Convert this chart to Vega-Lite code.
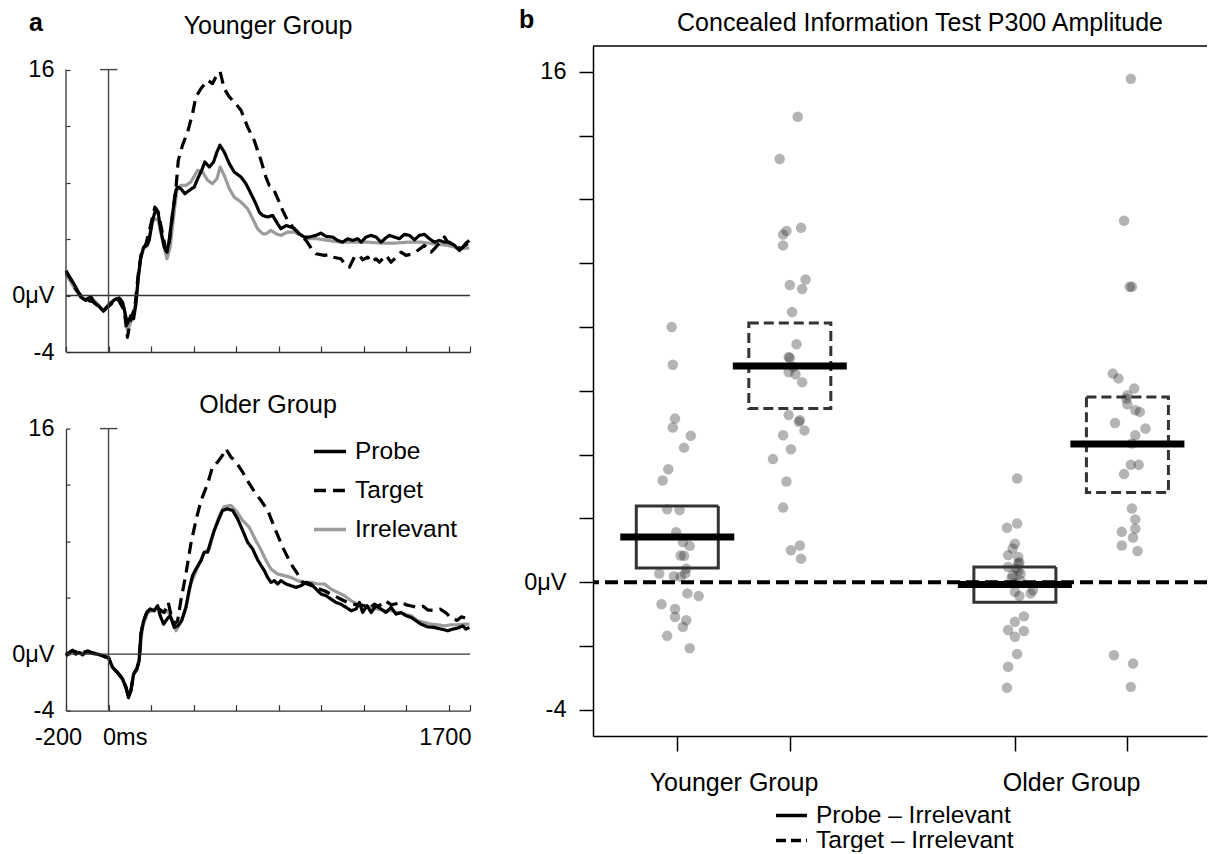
{
"$schema": "https://vega.github.io/schema/vega-lite/v6.json",
"background": "white",
"padding": {"left": 11, "top": 8, "right": 0, "bottom": 0},
"config": {
  "font": "Liberation Sans",
  "view": {"stroke": null},
  "axis": {"grid": false, "labelColor": "black", "labelFont": "Liberation Sans"},
  "title": {"font": "Liberation Sans", "fontWeight": "normal", "color": "black"},
  "legend": {"labelFont": "Liberation Sans", "labelColor": "black", "labelLimit": 400}
},
"datasets": {
  "waves": [
    {"g":"Y","c":"Probe","t":-200,"v":1.65},{"g":"Y","c":"Probe","t":-177,"v":1.18},{"g":"Y","c":"Probe","t":-154,"v":0.59},{"g":"Y","c":"Probe","t":-130,"v":-0.12},{"g":"Y","c":"Probe","t":-107,"v":-0.35},{"g":"Y","c":"Probe","t":-83,"v":-0.07},{"g":"Y","c":"Probe","t":-67,"v":-0.54},{"g":"Y","c":"Probe","t":-44,"v":-0.78},{"g":"Y","c":"Probe","t":-24,"v":-1.11},{"g":"Y","c":"Probe","t":0,"v":-0.71},{"g":"Y","c":"Probe","t":27,"v":-0.31},{"g":"Y","c":"Probe","t":50,"v":-0.17},{"g":"Y","c":"Probe","t":66,"v":-0.47},{"g":"Y","c":"Probe","t":82,"v":-1.54},{"g":"Y","c":"Probe","t":89,"v":-2.0},{"g":"Y","c":"Probe","t":105,"v":-1.42},{"g":"Y","c":"Probe","t":118,"v":-1.65},{"g":"Y","c":"Probe","t":129,"v":-0.59},{"g":"Y","c":"Probe","t":140,"v":1.3},{"g":"Y","c":"Probe","t":152,"v":2.72},{"g":"Y","c":"Probe","t":165,"v":3.43},{"g":"Y","c":"Probe","t":180,"v":3.55},{"g":"Y","c":"Probe","t":191,"v":3.9},{"g":"Y","c":"Probe","t":207,"v":5.32},{"g":"Y","c":"Probe","t":223,"v":6.15},{"g":"Y","c":"Probe","t":234,"v":5.79},{"g":"Y","c":"Probe","t":246,"v":4.61},{"g":"Y","c":"Probe","t":262,"v":3.43},{"g":"Y","c":"Probe","t":275,"v":3.07},{"g":"Y","c":"Probe","t":285,"v":3.9},{"g":"Y","c":"Probe","t":301,"v":5.79},{"g":"Y","c":"Probe","t":317,"v":7.45},{"g":"Y","c":"Probe","t":325,"v":7.68},{"g":"Y","c":"Probe","t":340,"v":7.57},{"g":"Y","c":"Probe","t":359,"v":7.21},{"g":"Y","c":"Probe","t":380,"v":7.45},{"g":"Y","c":"Probe","t":403,"v":7.68},{"g":"Y","c":"Probe","t":419,"v":8.27},{"g":"Y","c":"Probe","t":438,"v":8.87},{"g":"Y","c":"Probe","t":453,"v":9.46},{"g":"Y","c":"Probe","t":474,"v":9.1},{"g":"Y","c":"Probe","t":494,"v":9.46},{"g":"Y","c":"Probe","t":510,"v":10.17},{"g":"Y","c":"Probe","t":524,"v":10.64},{"g":"Y","c":"Probe","t":544,"v":10.17},{"g":"Y","c":"Probe","t":568,"v":9.34},{"g":"Y","c":"Probe","t":591,"v":8.75},{"g":"Y","c":"Probe","t":623,"v":8.39},{"g":"Y","c":"Probe","t":646,"v":7.92},{"g":"Y","c":"Probe","t":670,"v":7.21},{"g":"Y","c":"Probe","t":693,"v":6.5},{"g":"Y","c":"Probe","t":709,"v":5.91},{"g":"Y","c":"Probe","t":725,"v":5.67},{"g":"Y","c":"Probe","t":748,"v":5.56},{"g":"Y","c":"Probe","t":772,"v":5.67},{"g":"Y","c":"Probe","t":795,"v":5.08},{"g":"Y","c":"Probe","t":811,"v":4.73},{"g":"Y","c":"Probe","t":835,"v":4.96},{"g":"Y","c":"Probe","t":858,"v":4.85},{"g":"Y","c":"Probe","t":874,"v":4.73},{"g":"Y","c":"Probe","t":897,"v":4.37},{"g":"Y","c":"Probe","t":921,"v":4.14},{"g":"Y","c":"Probe","t":944,"v":4.14},{"g":"Y","c":"Probe","t":976,"v":4.26},{"g":"Y","c":"Probe","t":999,"v":4.42},{"g":"Y","c":"Probe","t":1023,"v":4.18},{"g":"Y","c":"Probe","t":1054,"v":4.14},{"g":"Y","c":"Probe","t":1078,"v":3.9},{"g":"Y","c":"Probe","t":1101,"v":3.78},{"g":"Y","c":"Probe","t":1125,"v":4.02},{"g":"Y","c":"Probe","t":1148,"v":3.9},{"g":"Y","c":"Probe","t":1172,"v":4.02},{"g":"Y","c":"Probe","t":1188,"v":3.78},{"g":"Y","c":"Probe","t":1211,"v":4.14},{"g":"Y","c":"Probe","t":1235,"v":4.26},{"g":"Y","c":"Probe","t":1258,"v":4.14},{"g":"Y","c":"Probe","t":1282,"v":3.78},{"g":"Y","c":"Probe","t":1305,"v":4.09},{"g":"Y","c":"Probe","t":1321,"v":4.26},{"g":"Y","c":"Probe","t":1344,"v":4.14},{"g":"Y","c":"Probe","t":1368,"v":4.02},{"g":"Y","c":"Probe","t":1391,"v":4.33},{"g":"Y","c":"Probe","t":1415,"v":4.26},{"g":"Y","c":"Probe","t":1439,"v":3.95},{"g":"Y","c":"Probe","t":1462,"v":4.26},{"g":"Y","c":"Probe","t":1486,"v":4.33},{"g":"Y","c":"Probe","t":1509,"v":4.02},{"g":"Y","c":"Probe","t":1533,"v":3.78},{"g":"Y","c":"Probe","t":1556,"v":3.9},{"g":"Y","c":"Probe","t":1580,"v":3.78},{"g":"Y","c":"Probe","t":1603,"v":3.78},{"g":"Y","c":"Probe","t":1627,"v":3.55},{"g":"Y","c":"Probe","t":1650,"v":3.19},{"g":"Y","c":"Probe","t":1666,"v":3.43},{"g":"Y","c":"Probe","t":1681,"v":3.71},{"g":"Y","c":"Probe","t":1697,"v":3.9},
    {"g":"Y","c":"Irrelevant","t":-200,"v":1.54},{"g":"Y","c":"Irrelevant","t":-154,"v":0.35},{"g":"Y","c":"Irrelevant","t":-130,"v":-0.12},{"g":"Y","c":"Irrelevant","t":-107,"v":-0.24},{"g":"Y","c":"Irrelevant","t":-83,"v":-0.12},{"g":"Y","c":"Irrelevant","t":-44,"v":-0.71},{"g":"Y","c":"Irrelevant","t":-24,"v":-1.06},{"g":"Y","c":"Irrelevant","t":0,"v":-0.59},{"g":"Y","c":"Irrelevant","t":35,"v":-0.24},{"g":"Y","c":"Irrelevant","t":58,"v":-0.31},{"g":"Y","c":"Irrelevant","t":74,"v":-0.95},{"g":"Y","c":"Irrelevant","t":89,"v":-2.48},{"g":"Y","c":"Irrelevant","t":102,"v":-2.0},{"g":"Y","c":"Irrelevant","t":118,"v":-1.3},{"g":"Y","c":"Irrelevant","t":133,"v":0.12},{"g":"Y","c":"Irrelevant","t":149,"v":2.48},{"g":"Y","c":"Irrelevant","t":165,"v":3.31},{"g":"Y","c":"Irrelevant","t":184,"v":3.55},{"g":"Y","c":"Irrelevant","t":203,"v":5.08},{"g":"Y","c":"Irrelevant","t":215,"v":5.44},{"g":"Y","c":"Irrelevant","t":234,"v":5.32},{"g":"Y","c":"Irrelevant","t":254,"v":3.9},{"g":"Y","c":"Irrelevant","t":275,"v":2.6},{"g":"Y","c":"Irrelevant","t":290,"v":3.43},{"g":"Y","c":"Irrelevant","t":306,"v":5.56},{"g":"Y","c":"Irrelevant","t":321,"v":7.45},{"g":"Y","c":"Irrelevant","t":340,"v":7.8},{"g":"Y","c":"Irrelevant","t":364,"v":7.8},{"g":"Y","c":"Irrelevant","t":387,"v":8.04},{"g":"Y","c":"Irrelevant","t":419,"v":8.87},{"g":"Y","c":"Irrelevant","t":442,"v":8.75},{"g":"Y","c":"Irrelevant","t":466,"v":8.16},{"g":"Y","c":"Irrelevant","t":489,"v":7.92},{"g":"Y","c":"Irrelevant","t":510,"v":8.27},{"g":"Y","c":"Irrelevant","t":525,"v":9.1},{"g":"Y","c":"Irrelevant","t":544,"v":8.51},{"g":"Y","c":"Irrelevant","t":568,"v":7.57},{"g":"Y","c":"Irrelevant","t":591,"v":6.97},{"g":"Y","c":"Irrelevant","t":623,"v":6.62},{"g":"Y","c":"Irrelevant","t":654,"v":6.15},{"g":"Y","c":"Irrelevant","t":678,"v":5.44},{"g":"Y","c":"Irrelevant","t":701,"v":4.73},{"g":"Y","c":"Irrelevant","t":725,"v":4.37},{"g":"Y","c":"Irrelevant","t":741,"v":4.37},{"g":"Y","c":"Irrelevant","t":764,"v":4.61},{"g":"Y","c":"Irrelevant","t":788,"v":4.37},{"g":"Y","c":"Irrelevant","t":811,"v":4.26},{"g":"Y","c":"Irrelevant","t":842,"v":4.49},{"g":"Y","c":"Irrelevant","t":874,"v":4.49},{"g":"Y","c":"Irrelevant","t":905,"v":4.26},{"g":"Y","c":"Irrelevant","t":937,"v":4.02},{"g":"Y","c":"Irrelevant","t":984,"v":4.02},{"g":"Y","c":"Irrelevant","t":1031,"v":3.9},{"g":"Y","c":"Irrelevant","t":1093,"v":3.78},{"g":"Y","c":"Irrelevant","t":1156,"v":3.78},{"g":"Y","c":"Irrelevant","t":1219,"v":3.78},{"g":"Y","c":"Irrelevant","t":1282,"v":3.71},{"g":"Y","c":"Irrelevant","t":1344,"v":3.71},{"g":"Y","c":"Irrelevant","t":1407,"v":3.78},{"g":"Y","c":"Irrelevant","t":1470,"v":3.78},{"g":"Y","c":"Irrelevant","t":1533,"v":3.66},{"g":"Y","c":"Irrelevant","t":1595,"v":3.55},{"g":"Y","c":"Irrelevant","t":1658,"v":3.31},{"g":"Y","c":"Irrelevant","t":1697,"v":3.38},
    {"g":"Y","c":"Target","t":-200,"v":1.77},{"g":"Y","c":"Target","t":-154,"v":0.47},{"g":"Y","c":"Target","t":-130,"v":0.0},{"g":"Y","c":"Target","t":-107,"v":-0.31},{"g":"Y","c":"Target","t":-67,"v":-0.47},{"g":"Y","c":"Target","t":-24,"v":-1.06},{"g":"Y","c":"Target","t":0,"v":-0.78},{"g":"Y","c":"Target","t":42,"v":-0.17},{"g":"Y","c":"Target","t":74,"v":-1.06},{"g":"Y","c":"Target","t":89,"v":-2.96},{"g":"Y","c":"Target","t":105,"v":-1.65},{"g":"Y","c":"Target","t":124,"v":-0.83},{"g":"Y","c":"Target","t":140,"v":1.54},{"g":"Y","c":"Target","t":155,"v":3.07},{"g":"Y","c":"Target","t":176,"v":3.66},{"g":"Y","c":"Target","t":196,"v":4.85},{"g":"Y","c":"Target","t":218,"v":6.26},{"g":"Y","c":"Target","t":234,"v":5.91},{"g":"Y","c":"Target","t":254,"v":4.37},{"g":"Y","c":"Target","t":270,"v":3.19},{"g":"Y","c":"Target","t":286,"v":3.78},{"g":"Y","c":"Target","t":309,"v":6.74},{"g":"Y","c":"Target","t":317,"v":7.57},{"g":"Y","c":"Target","t":328,"v":9.57},{"g":"Y","c":"Target","t":348,"v":10.64},{"g":"Y","c":"Target","t":372,"v":11.58},{"g":"Y","c":"Target","t":395,"v":12.88},{"g":"Y","c":"Target","t":411,"v":14.07},{"g":"Y","c":"Target","t":435,"v":14.66},{"g":"Y","c":"Target","t":466,"v":15.25},{"g":"Y","c":"Target","t":489,"v":15.01},{"g":"Y","c":"Target","t":513,"v":15.72},{"g":"Y","c":"Target","t":525,"v":15.84},{"g":"Y","c":"Target","t":544,"v":14.66},{"g":"Y","c":"Target","t":568,"v":14.07},{"g":"Y","c":"Target","t":591,"v":13.71},{"g":"Y","c":"Target","t":623,"v":13.12},{"g":"Y","c":"Target","t":654,"v":11.94},{"g":"Y","c":"Target","t":685,"v":10.99},{"g":"Y","c":"Target","t":717,"v":9.57},{"g":"Y","c":"Target","t":740,"v":8.39},{"g":"Y","c":"Target","t":756,"v":7.8},{"g":"Y","c":"Target","t":772,"v":7.68},{"g":"Y","c":"Target","t":803,"v":6.62},{"g":"Y","c":"Target","t":819,"v":6.03},{"g":"Y","c":"Target","t":842,"v":5.32},{"g":"Y","c":"Target","t":866,"v":4.85},{"g":"Y","c":"Target","t":897,"v":4.37},{"g":"Y","c":"Target","t":929,"v":3.9},{"g":"Y","c":"Target","t":960,"v":3.19},{"g":"Y","c":"Target","t":976,"v":2.96},{"g":"Y","c":"Target","t":1015,"v":2.84},{"g":"Y","c":"Target","t":1039,"v":2.91},{"g":"Y","c":"Target","t":1054,"v":2.72},{"g":"Y","c":"Target","t":1093,"v":2.6},{"g":"Y","c":"Target","t":1117,"v":2.13},{"g":"Y","c":"Target","t":1133,"v":2.01},{"g":"Y","c":"Target","t":1156,"v":2.72},{"g":"Y","c":"Target","t":1180,"v":2.84},{"g":"Y","c":"Target","t":1195,"v":2.53},{"g":"Y","c":"Target","t":1219,"v":2.72},{"g":"Y","c":"Target","t":1235,"v":2.36},{"g":"Y","c":"Target","t":1258,"v":2.6},{"g":"Y","c":"Target","t":1274,"v":2.36},{"g":"Y","c":"Target","t":1305,"v":2.84},{"g":"Y","c":"Target","t":1329,"v":2.36},{"g":"Y","c":"Target","t":1376,"v":3.07},{"g":"Y","c":"Target","t":1399,"v":2.84},{"g":"Y","c":"Target","t":1431,"v":2.96},{"g":"Y","c":"Target","t":1454,"v":3.19},{"g":"Y","c":"Target","t":1486,"v":3.55},{"g":"Y","c":"Target","t":1517,"v":3.07},{"g":"Y","c":"Target","t":1540,"v":3.43},{"g":"Y","c":"Target","t":1580,"v":4.14},{"g":"Y","c":"Target","t":1595,"v":3.78},{"g":"Y","c":"Target","t":1627,"v":3.55},{"g":"Y","c":"Target","t":1658,"v":3.31},{"g":"Y","c":"Target","t":1697,"v":3.78},
    {"g":"O","c":"Probe","t":-200,"v":-0.12},{"g":"O","c":"Probe","t":-185,"v":0.12},{"g":"O","c":"Probe","t":-169,"v":0.28},{"g":"O","c":"Probe","t":-154,"v":0.0},{"g":"O","c":"Probe","t":-138,"v":0.12},{"g":"O","c":"Probe","t":-122,"v":-0.05},{"g":"O","c":"Probe","t":-98,"v":0.24},{"g":"O","c":"Probe","t":-75,"v":0.05},{"g":"O","c":"Probe","t":-52,"v":0.0},{"g":"O","c":"Probe","t":-28,"v":-0.12},{"g":"O","c":"Probe","t":0,"v":-0.28},{"g":"O","c":"Probe","t":19,"v":-0.95},{"g":"O","c":"Probe","t":42,"v":-1.3},{"g":"O","c":"Probe","t":66,"v":-1.78},{"g":"O","c":"Probe","t":82,"v":-2.37},{"g":"O","c":"Probe","t":94,"v":-3.08},{"g":"O","c":"Probe","t":105,"v":-2.61},{"g":"O","c":"Probe","t":118,"v":-1.42},{"g":"O","c":"Probe","t":133,"v":-1.07},{"g":"O","c":"Probe","t":144,"v":-0.47},{"g":"O","c":"Probe","t":152,"v":1.42},{"g":"O","c":"Probe","t":165,"v":2.37},{"g":"O","c":"Probe","t":180,"v":2.96},{"g":"O","c":"Probe","t":196,"v":3.2},{"g":"O","c":"Probe","t":215,"v":3.08},{"g":"O","c":"Probe","t":231,"v":3.44},{"g":"O","c":"Probe","t":243,"v":2.73},{"g":"O","c":"Probe","t":259,"v":2.13},{"g":"O","c":"Probe","t":275,"v":2.49},{"g":"O","c":"Probe","t":290,"v":2.73},{"g":"O","c":"Probe","t":309,"v":1.9},{"g":"O","c":"Probe","t":325,"v":2.01},{"g":"O","c":"Probe","t":344,"v":2.37},{"g":"O","c":"Probe","t":364,"v":3.32},{"g":"O","c":"Probe","t":380,"v":4.62},{"g":"O","c":"Probe","t":395,"v":5.57},{"g":"O","c":"Probe","t":411,"v":6.04},{"g":"O","c":"Probe","t":435,"v":6.64},{"g":"O","c":"Probe","t":450,"v":7.23},{"g":"O","c":"Probe","t":466,"v":7.23},{"g":"O","c":"Probe","t":482,"v":8.06},{"g":"O","c":"Probe","t":497,"v":8.77},{"g":"O","c":"Probe","t":516,"v":9.48},{"g":"O","c":"Probe","t":536,"v":10.19},{"g":"O","c":"Probe","t":560,"v":10.31},{"g":"O","c":"Probe","t":584,"v":10.19},{"g":"O","c":"Probe","t":607,"v":9.6},{"g":"O","c":"Probe","t":631,"v":8.77},{"g":"O","c":"Probe","t":654,"v":7.94},{"g":"O","c":"Probe","t":678,"v":7.46},{"g":"O","c":"Probe","t":701,"v":6.7},{"g":"O","c":"Probe","t":717,"v":6.3},{"g":"O","c":"Probe","t":733,"v":5.92},{"g":"O","c":"Probe","t":748,"v":5.45},{"g":"O","c":"Probe","t":764,"v":5.09},{"g":"O","c":"Probe","t":780,"v":5.21},{"g":"O","c":"Probe","t":795,"v":4.98},{"g":"O","c":"Probe","t":811,"v":5.21},{"g":"O","c":"Probe","t":835,"v":4.98},{"g":"O","c":"Probe","t":858,"v":4.86},{"g":"O","c":"Probe","t":882,"v":4.74},{"g":"O","c":"Probe","t":905,"v":4.86},{"g":"O","c":"Probe","t":929,"v":5.09},{"g":"O","c":"Probe","t":952,"v":4.98},{"g":"O","c":"Probe","t":976,"v":4.62},{"g":"O","c":"Probe","t":999,"v":4.27},{"g":"O","c":"Probe","t":1023,"v":4.15},{"g":"O","c":"Probe","t":1046,"v":3.91},{"g":"O","c":"Probe","t":1070,"v":3.67},{"g":"O","c":"Probe","t":1093,"v":3.55},{"g":"O","c":"Probe","t":1117,"v":3.32},{"g":"O","c":"Probe","t":1141,"v":3.08},{"g":"O","c":"Probe","t":1164,"v":3.2},{"g":"O","c":"Probe","t":1180,"v":3.67},{"g":"O","c":"Probe","t":1195,"v":2.96},{"g":"O","c":"Probe","t":1216,"v":3.44},{"g":"O","c":"Probe","t":1235,"v":2.96},{"g":"O","c":"Probe","t":1258,"v":3.44},{"g":"O","c":"Probe","t":1282,"v":3.2},{"g":"O","c":"Probe","t":1305,"v":2.96},{"g":"O","c":"Probe","t":1329,"v":3.32},{"g":"O","c":"Probe","t":1352,"v":2.84},{"g":"O","c":"Probe","t":1376,"v":2.96},{"g":"O","c":"Probe","t":1399,"v":2.73},{"g":"O","c":"Probe","t":1423,"v":2.61},{"g":"O","c":"Probe","t":1446,"v":2.37},{"g":"O","c":"Probe","t":1470,"v":2.13},{"g":"O","c":"Probe","t":1501,"v":1.94},{"g":"O","c":"Probe","t":1533,"v":1.9},{"g":"O","c":"Probe","t":1564,"v":1.78},{"g":"O","c":"Probe","t":1595,"v":1.66},{"g":"O","c":"Probe","t":1619,"v":1.78},{"g":"O","c":"Probe","t":1642,"v":1.85},{"g":"O","c":"Probe","t":1666,"v":2.01},{"g":"O","c":"Probe","t":1681,"v":1.78},{"g":"O","c":"Probe","t":1697,"v":1.9},
    {"g":"O","c":"Irrelevant","t":-200,"v":-0.05},{"g":"O","c":"Irrelevant","t":-169,"v":0.2},{"g":"O","c":"Irrelevant","t":-138,"v":0.1},{"g":"O","c":"Irrelevant","t":-98,"v":0.15},{"g":"O","c":"Irrelevant","t":-52,"v":0.02},{"g":"O","c":"Irrelevant","t":0,"v":-0.2},{"g":"O","c":"Irrelevant","t":19,"v":-0.9},{"g":"O","c":"Irrelevant","t":42,"v":-1.25},{"g":"O","c":"Irrelevant","t":66,"v":-1.7},{"g":"O","c":"Irrelevant","t":82,"v":-2.3},{"g":"O","c":"Irrelevant","t":94,"v":-2.95},{"g":"O","c":"Irrelevant","t":105,"v":-2.55},{"g":"O","c":"Irrelevant","t":118,"v":-1.4},{"g":"O","c":"Irrelevant","t":133,"v":-1.0},{"g":"O","c":"Irrelevant","t":144,"v":-0.36},{"g":"O","c":"Irrelevant","t":160,"v":1.9},{"g":"O","c":"Irrelevant","t":184,"v":2.96},{"g":"O","c":"Irrelevant","t":207,"v":3.08},{"g":"O","c":"Irrelevant","t":231,"v":3.32},{"g":"O","c":"Irrelevant","t":254,"v":2.96},{"g":"O","c":"Irrelevant","t":278,"v":3.08},{"g":"O","c":"Irrelevant","t":301,"v":2.37},{"g":"O","c":"Irrelevant","t":317,"v":1.66},{"g":"O","c":"Irrelevant","t":340,"v":2.25},{"g":"O","c":"Irrelevant","t":364,"v":3.32},{"g":"O","c":"Irrelevant","t":387,"v":4.98},{"g":"O","c":"Irrelevant","t":419,"v":6.16},{"g":"O","c":"Irrelevant","t":450,"v":7.23},{"g":"O","c":"Irrelevant","t":474,"v":7.46},{"g":"O","c":"Irrelevant","t":497,"v":8.77},{"g":"O","c":"Irrelevant","t":521,"v":9.83},{"g":"O","c":"Irrelevant","t":544,"v":10.47},{"g":"O","c":"Irrelevant","t":576,"v":10.55},{"g":"O","c":"Irrelevant","t":599,"v":10.19},{"g":"O","c":"Irrelevant","t":631,"v":9.48},{"g":"O","c":"Irrelevant","t":662,"v":9.0},{"g":"O","c":"Irrelevant","t":693,"v":8.06},{"g":"O","c":"Irrelevant","t":717,"v":7.4},{"g":"O","c":"Irrelevant","t":741,"v":6.64},{"g":"O","c":"Irrelevant","t":764,"v":6.04},{"g":"O","c":"Irrelevant","t":795,"v":5.69},{"g":"O","c":"Irrelevant","t":827,"v":5.57},{"g":"O","c":"Irrelevant","t":858,"v":5.45},{"g":"O","c":"Irrelevant","t":890,"v":5.21},{"g":"O","c":"Irrelevant","t":921,"v":5.09},{"g":"O","c":"Irrelevant","t":952,"v":5.09},{"g":"O","c":"Irrelevant","t":984,"v":4.98},{"g":"O","c":"Irrelevant","t":1015,"v":4.98},{"g":"O","c":"Irrelevant","t":1046,"v":4.62},{"g":"O","c":"Irrelevant","t":1078,"v":4.38},{"g":"O","c":"Irrelevant","t":1109,"v":4.15},{"g":"O","c":"Irrelevant","t":1141,"v":3.79},{"g":"O","c":"Irrelevant","t":1172,"v":3.55},{"g":"O","c":"Irrelevant","t":1203,"v":3.44},{"g":"O","c":"Irrelevant","t":1235,"v":3.32},{"g":"O","c":"Irrelevant","t":1266,"v":3.2},{"g":"O","c":"Irrelevant","t":1297,"v":3.08},{"g":"O","c":"Irrelevant","t":1329,"v":3.08},{"g":"O","c":"Irrelevant","t":1360,"v":2.96},{"g":"O","c":"Irrelevant","t":1391,"v":2.84},{"g":"O","c":"Irrelevant","t":1423,"v":2.73},{"g":"O","c":"Irrelevant","t":1454,"v":2.37},{"g":"O","c":"Irrelevant","t":1486,"v":2.25},{"g":"O","c":"Irrelevant","t":1517,"v":2.13},{"g":"O","c":"Irrelevant","t":1548,"v":2.09},{"g":"O","c":"Irrelevant","t":1580,"v":2.01},{"g":"O","c":"Irrelevant","t":1611,"v":2.09},{"g":"O","c":"Irrelevant","t":1642,"v":2.09},{"g":"O","c":"Irrelevant","t":1674,"v":2.13},{"g":"O","c":"Irrelevant","t":1697,"v":2.13},
    {"g":"O","c":"Target","t":-200,"v":0.0},{"g":"O","c":"Target","t":-169,"v":0.25},{"g":"O","c":"Target","t":-138,"v":0.1},{"g":"O","c":"Target","t":-98,"v":0.2},{"g":"O","c":"Target","t":-52,"v":0.0},{"g":"O","c":"Target","t":0,"v":-0.25},{"g":"O","c":"Target","t":19,"v":-0.95},{"g":"O","c":"Target","t":42,"v":-1.3},{"g":"O","c":"Target","t":66,"v":-1.75},{"g":"O","c":"Target","t":82,"v":-2.35},{"g":"O","c":"Target","t":94,"v":-3.05},{"g":"O","c":"Target","t":105,"v":-2.6},{"g":"O","c":"Target","t":118,"v":-1.42},{"g":"O","c":"Target","t":133,"v":-1.05},{"g":"O","c":"Target","t":144,"v":-0.45},{"g":"O","c":"Target","t":152,"v":1.42},{"g":"O","c":"Target","t":165,"v":2.37},{"g":"O","c":"Target","t":180,"v":2.96},{"g":"O","c":"Target","t":196,"v":3.2},{"g":"O","c":"Target","t":215,"v":3.32},{"g":"O","c":"Target","t":238,"v":3.2},{"g":"O","c":"Target","t":262,"v":2.96},{"g":"O","c":"Target","t":281,"v":3.67},{"g":"O","c":"Target","t":293,"v":2.84},{"g":"O","c":"Target","t":309,"v":2.13},{"g":"O","c":"Target","t":325,"v":2.37},{"g":"O","c":"Target","t":340,"v":3.79},{"g":"O","c":"Target","t":364,"v":5.69},{"g":"O","c":"Target","t":387,"v":7.82},{"g":"O","c":"Target","t":411,"v":9.48},{"g":"O","c":"Target","t":435,"v":10.9},{"g":"O","c":"Target","t":466,"v":12.09},{"g":"O","c":"Target","t":489,"v":13.27},{"g":"O","c":"Target","t":513,"v":13.63},{"g":"O","c":"Target","t":536,"v":14.1},{"g":"O","c":"Target","t":552,"v":14.57},{"g":"O","c":"Target","t":576,"v":13.98},{"g":"O","c":"Target","t":599,"v":13.63},{"g":"O","c":"Target","t":631,"v":12.91},{"g":"O","c":"Target","t":662,"v":12.09},{"g":"O","c":"Target","t":693,"v":11.37},{"g":"O","c":"Target","t":717,"v":10.9},{"g":"O","c":"Target","t":749,"v":10.19},{"g":"O","c":"Target","t":780,"v":9.0},{"g":"O","c":"Target","t":819,"v":7.59},{"g":"O","c":"Target","t":858,"v":6.41},{"g":"O","c":"Target","t":889,"v":5.69},{"g":"O","c":"Target","t":913,"v":5.1},{"g":"O","c":"Target","t":940,"v":4.95},{"g":"O","c":"Target","t":976,"v":4.7},{"g":"O","c":"Target","t":1015,"v":4.5},{"g":"O","c":"Target","t":1054,"v":4.2},{"g":"O","c":"Target","t":1093,"v":3.9},{"g":"O","c":"Target","t":1133,"v":3.6},{"g":"O","c":"Target","t":1172,"v":3.5},{"g":"O","c":"Target","t":1200,"v":3.45},{"g":"O","c":"Target","t":1230,"v":3.3},{"g":"O","c":"Target","t":1250,"v":3.55},{"g":"O","c":"Target","t":1270,"v":3.4},{"g":"O","c":"Target","t":1300,"v":3.8},{"g":"O","c":"Target","t":1330,"v":3.5},{"g":"O","c":"Target","t":1360,"v":3.6},{"g":"O","c":"Target","t":1380,"v":3.7},{"g":"O","c":"Target","t":1400,"v":3.5},{"g":"O","c":"Target","t":1430,"v":3.4},{"g":"O","c":"Target","t":1450,"v":3.3},{"g":"O","c":"Target","t":1480,"v":3.4},{"g":"O","c":"Target","t":1500,"v":3.15},{"g":"O","c":"Target","t":1530,"v":3.1},{"g":"O","c":"Target","t":1560,"v":3.2},{"g":"O","c":"Target","t":1590,"v":2.9},{"g":"O","c":"Target","t":1610,"v":2.55},{"g":"O","c":"Target","t":1640,"v":2.4},{"g":"O","c":"Target","t":1660,"v":2.65},{"g":"O","c":"Target","t":1680,"v":2.55},{"g":"O","c":"Target","t":1700,"v":2.45}
  ],
  "pts": [
    {"p":0.95,"v":8.0},{"p":0.96,"v":6.82},{"p":0.98,"v":5.13},{"p":0.96,"v":4.85},{"p":1.12,"v":4.59},{"p":1.06,"v":4.22},{"p":0.92,"v":3.54},{"p":0.87,"v":3.19},{"p":0.91,"v":2.29},{"p":1.02,"v":2.26},{"p":0.99,"v":1.57},{"p":1.05,"v":1.26},{"p":1.11,"v":1.14},{"p":1.03,"v":0.84},{"p":1.06,"v":0.83},{"p":1.08,"v":0.42},{"p":1.07,"v":0.27},{"p":0.84,"v":0.27},{"p":0.97,"v":0.19},{"p":1.03,"v":0.17},{"p":1.09,"v":-0.35},{"p":1.19,"v":-0.43},{"p":0.86,"v":-0.69},{"p":0.98,"v":-0.84},{"p":0.98,"v":-1.09},{"p":1.08,"v":-1.19},{"p":1.05,"v":-1.4},{"p":0.91,"v":-1.68},{"p":1.11,"v":-2.07},
    {"p":2.07,"v":14.59},{"p":1.91,"v":13.27},{"p":2.1,"v":11.11},{"p":1.97,"v":11.01},{"p":1.94,"v":10.9},{"p":1.94,"v":10.56},{"p":2.14,"v":9.49},{"p":2.0,"v":9.32},{"p":2.11,"v":9.19},{"p":2.02,"v":8.47},{"p":2.06,"v":7.46},{"p":1.99,"v":7.06},{"p":2.0,"v":7.03},{"p":1.99,"v":6.59},{"p":2.05,"v":6.52},{"p":2.03,"v":6.75},{"p":2.11,"v":6.27},{"p":1.99,"v":5.24},{"p":2.09,"v":5.08},{"p":2.08,"v":5.03},{"p":2.13,"v":4.76},{"p":1.94,"v":4.61},{"p":2.01,"v":4.17},{"p":1.85,"v":3.86},{"p":1.97,"v":3.16},{"p":1.94,"v":2.34},{"p":2.09,"v":1.15},{"p":2.01,"v":1.0},{"p":2.1,"v":0.74},
    {"p":4.02,"v":3.25},{"p":4.02,"v":1.84},{"p":3.93,"v":1.71},{"p":4.0,"v":1.21},{"p":3.98,"v":1.06},{"p":3.94,"v":0.85},{"p":4.03,"v":0.79},{"p":4.03,"v":0.59},{"p":3.94,"v":0.48},{"p":4.01,"v":0.43},{"p":4.05,"v":0.27},{"p":3.98,"v":0.22},{"p":4.01,"v":-0.02},{"p":4.16,"v":-0.25},{"p":4.0,"v":-0.3},{"p":4.14,"v":-0.35},{"p":4.04,"v":-0.43},{"p":4.08,"v":-1.07},{"p":4.0,"v":-1.24},{"p":3.94,"v":-1.5},{"p":4.08,"v":-1.53},{"p":4.0,"v":-1.71},{"p":4.02,"v":-2.25},{"p":3.94,"v":-2.65},{"p":3.93,"v":-3.31},{"p":4.03,"v":0.35},{"p":3.97,"v":0.12},{"p":4.05,"v":0.05},{"p":4.04,"v":0.62},
    {"p":5.03,"v":15.78},{"p":4.97,"v":11.33},{"p":5.02,"v":9.26},{"p":5.04,"v":9.26},{"p":4.87,"v":6.54},{"p":4.92,"v":6.39},{"p":5.06,"v":6.07},{"p":5.0,"v":5.86},{"p":4.99,"v":5.76},{"p":5.0,"v":5.58},{"p":5.07,"v":5.39},{"p":5.11,"v":5.34},{"p":4.89,"v":4.99},{"p":5.16,"v":4.82},{"p":5.07,"v":4.61},{"p":5.04,"v":4.35},{"p":5.03,"v":3.68},{"p":5.1,"v":3.68},{"p":4.97,"v":3.39},{"p":5.04,"v":2.31},{"p":5.07,"v":1.97},{"p":5.07,"v":1.68},{"p":4.95,"v":1.58},{"p":5.05,"v":1.4},{"p":4.95,"v":1.15},{"p":5.09,"v":0.98},{"p":4.88,"v":-2.29},{"p":5.05,"v":-2.55},{"p":5.03,"v":-3.28}
  ],
  "summ": [
    {"p":1,"m":1.42,"lo":0.45,"hi":2.39,"d":"Probe – Irrelevant"},
    {"p":2,"m":6.78,"lo":5.45,"hi":8.13,"d":"Target – Irrelevant"},
    {"p":4,"m":-0.07,"lo":-0.63,"hi":0.48,"d":"Probe – Irrelevant"},
    {"p":5,"m":4.33,"lo":2.81,"hi":5.81,"d":"Target – Irrelevant"}
  ]
},
"spacing": 47,
"resolve": {"scale": {"color": "independent", "strokeDash": "independent", "x": "independent", "y": "independent"}},
"hconcat": [
  {
    "title": {"text": "a", "anchor": "start", "frame": "group", "fontSize": 25, "fontWeight": "bold", "baseline": "alphabetic", "offset": -42.7, "dx": -37},
    "bounds": "flush",
    "spacing": 76.6,
    "resolve": {"scale": {"color": "independent", "strokeDash": "independent"}},
    "vconcat": [
      {
        "width": 404, "height": 306,
        "title": {"text": "Younger Group", "fontSize": 25, "baseline": "alphabetic", "frame": "group", "offset": -12.6},
        "data": {"name": "waves"},
        "layer": [
          {"transform": [{"filter": "datum.g == 'Y' && datum.c == 'Irrelevant'"}],
           "mark": {"type": "line", "strokeWidth": 3.2, "strokeJoin": "round"},
           "encoding": {
             "x": {"field": "t", "type": "quantitative", "scale": {"domain": [-200, 1700], "nice": false, "zero": false},
                   "axis": {"title": null, "values": [-200,0,200,400,600,800,1000,1200,1400,1600,1700], "labels": false, "tickSize": -6, "tickColor": "#333", "tickWidth": 1.2, "domainColor": "#333", "domainWidth": 1.3}},
             "y": {"field": "v", "type": "quantitative", "scale": {"domain": [-4, 17.671], "nice": false, "zero": false},
                   "axis": {"title": null, "domain": false, "values": [-4,-2,0,2,4,6,8,10,12,14,16], "labelExpr": "datum.value == 0 ? '0μV' : datum.value == 16 ? '16' : datum.value == -4 ? '-4' : ''", "tickSize": -4, "tickColor": "#333", "tickWidth": 1.2, "labelFontSize": 23.5, "labelPadding": 16, "labelOverlap": false, "labelFlush": false}},
             "color": {"field": "c", "type": "nominal", "scale": {"domain": ["Probe", "Target", "Irrelevant"], "range": ["#000000", "#000000", "#9b9b9b"]}, "legend": null},
             "strokeDash": {"field": "c", "type": "nominal", "scale": {"domain": ["Probe", "Target", "Irrelevant"], "range": [[1, 0], [12, 7], [1, 0]]}, "legend": null}
           }},
          {"transform": [{"filter": "datum.g == 'Y' && datum.c == 'Target'"}],
           "mark": {"type": "line", "strokeWidth": 3.2, "strokeJoin": "round"},
           "encoding": {
             "x": {"field": "t", "type": "quantitative", "scale": {"domain": [-200, 1700], "nice": false, "zero": false}},
             "y": {"field": "v", "type": "quantitative", "scale": {"domain": [-4, 17.671], "nice": false, "zero": false}},
             "color": {"field": "c", "type": "nominal", "scale": {"domain": ["Probe", "Target", "Irrelevant"], "range": ["#000000", "#000000", "#9b9b9b"]}, "legend": null},
             "strokeDash": {"field": "c", "type": "nominal", "scale": {"domain": ["Probe", "Target", "Irrelevant"], "range": [[1, 0], [12, 7], [1, 0]]}, "legend": null}
           }},
          {"transform": [{"filter": "datum.g == 'Y' && datum.c == 'Probe'"}],
           "mark": {"type": "line", "strokeWidth": 3.2, "strokeJoin": "round"},
           "encoding": {
             "x": {"field": "t", "type": "quantitative", "scale": {"domain": [-200, 1700], "nice": false, "zero": false}},
             "y": {"field": "v", "type": "quantitative", "scale": {"domain": [-4, 17.671], "nice": false, "zero": false}},
             "color": {"field": "c", "type": "nominal", "scale": {"domain": ["Probe", "Target", "Irrelevant"], "range": ["#000000", "#000000", "#9b9b9b"]}, "legend": null},
             "strokeDash": {"field": "c", "type": "nominal", "scale": {"domain": ["Probe", "Target", "Irrelevant"], "range": [[1, 0], [12, 7], [1, 0]]}, "legend": null}
           }},
          {"data": {"values": [{}]},
           "mark": {"type": "rule", "color": "#333", "strokeWidth": 1.3},
           "encoding": {"y": {"datum": 0, "type": "quantitative", "scale": {"domain": [-4, 17.671], "nice": false, "zero": false}}}},
          {"data": {"values": [{}]},
           "mark": {"type": "rule", "color": "#333", "strokeWidth": 1.3},
           "encoding": {"x": {"datum": -200, "type": "quantitative", "scale": {"domain": [-200, 1700], "nice": false, "zero": false}}, "y": {"datum": -4, "type": "quantitative", "scale": {"domain": [-4, 17.671], "nice": false, "zero": false}}, "y2": {"datum": 16}}},
          {"data": {"values": [{}]},
           "mark": {"type": "rule", "color": "#444", "strokeWidth": 1.4},
           "encoding": {"x": {"datum": 0, "type": "quantitative", "scale": {"domain": [-200, 1700], "nice": false, "zero": false}}, "y": {"datum": -4, "type": "quantitative", "scale": {"domain": [-4, 17.671], "nice": false, "zero": false}}, "y2": {"datum": 16}}},
          {"data": {"values": [{}]},
           "mark": {"type": "rule", "color": "#444", "strokeWidth": 1.4},
           "encoding": {"x": {"datum": -40, "type": "quantitative", "scale": {"domain": [-200, 1700], "nice": false, "zero": false}}, "x2": {"datum": 42}, "y": {"datum": 16, "type": "quantitative", "scale": {"domain": [-4, 17.671], "nice": false, "zero": false}}}}
        ]
      },
      {
        "width": 404, "height": 282,
        "title": {"text": "Older Group", "fontSize": 25, "baseline": "alphabetic", "frame": "group", "offset": -21.4},
        "data": {"name": "waves"},
        "layer": [
          {"transform": [{"filter": "datum.g == 'O' && datum.c == 'Irrelevant'"}],
           "mark": {"type": "line", "strokeWidth": 3.2, "strokeJoin": "round"},
           "encoding": {
             "x": {"field": "t", "type": "quantitative", "scale": {"domain": [-200, 1700], "nice": false, "zero": false},
                   "axis": {"title": null, "values": [-200,0,200,400,600,800,1000,1200,1400,1600,1700], "labelExpr": "datum.value == -200 ? '-200' : datum.value == 0 ? '0ms' : datum.value == 1700 ? '1700' : ''", "labelAlign": {"condition": [{"test": "datum.value == 0", "value": "left"}, {"test": "datum.value == 1700", "value": "right"}], "value": "center"}, "labelOffset": {"condition": [{"test": "datum.value == -200", "value": -8}, {"test": "datum.value == 0", "value": -6}], "value": 1}, "labelFontSize": 23.5, "labelPadding": 21, "labelOverlap": false, "labelFlush": false, "tickSize": -6, "tickColor": "#333", "tickWidth": 1.2, "domainColor": "#333", "domainWidth": 1.3}},
             "y": {"field": "v", "type": "quantitative", "scale": {"domain": [-4, 16], "nice": false, "zero": false},
                   "axis": {"title": null, "values": [-4,-2,0,2,4,6,8,10,12,14,16], "labelExpr": "datum.value == 0 ? '0μV' : datum.value == 16 ? '16' : datum.value == -4 ? '-4' : ''", "tickSize": -4, "tickColor": "#333", "tickWidth": 1.2, "domainColor": "#333", "domainWidth": 1.3, "labelFontSize": 23.5, "labelPadding": 16, "labelOverlap": false, "labelFlush": false}},
             "color": {"field": "c", "type": "nominal", "scale": {"domain": ["Probe", "Target", "Irrelevant"], "range": ["#000000", "#000000", "#9b9b9b"]},
                       "legend": {"orient": "none", "legendX": 246, "legendY": 5, "title": null, "symbolType": "stroke", "symbolSize": 1024, "symbolStrokeWidth": 3.5, "labelFontSize": 24.5, "labelOffset": 7, "rowPadding": 9}},
             "strokeDash": {"field": "c", "type": "nominal", "scale": {"domain": ["Probe", "Target", "Irrelevant"], "range": [[1, 0], [12, 7], [1, 0]]},
                       "legend": {"orient": "none", "legendX": 246, "legendY": 5, "title": null, "symbolType": "stroke", "symbolSize": 1024, "symbolStrokeWidth": 3.5, "labelFontSize": 24.5, "labelOffset": 7, "rowPadding": 9}}
           }},
          {"transform": [{"filter": "datum.g == 'O' && datum.c == 'Target'"}],
           "mark": {"type": "line", "strokeWidth": 3.2, "strokeJoin": "round"},
           "encoding": {
             "x": {"field": "t", "type": "quantitative", "scale": {"domain": [-200, 1700], "nice": false, "zero": false}},
             "y": {"field": "v", "type": "quantitative", "scale": {"domain": [-4, 16], "nice": false, "zero": false}},
             "color": {"field": "c", "type": "nominal", "scale": {"domain": ["Probe", "Target", "Irrelevant"], "range": ["#000000", "#000000", "#9b9b9b"]}},
             "strokeDash": {"field": "c", "type": "nominal", "scale": {"domain": ["Probe", "Target", "Irrelevant"], "range": [[1, 0], [12, 7], [1, 0]]}}
           }},
          {"transform": [{"filter": "datum.g == 'O' && datum.c == 'Probe'"}],
           "mark": {"type": "line", "strokeWidth": 3.2, "strokeJoin": "round"},
           "encoding": {
             "x": {"field": "t", "type": "quantitative", "scale": {"domain": [-200, 1700], "nice": false, "zero": false}},
             "y": {"field": "v", "type": "quantitative", "scale": {"domain": [-4, 16], "nice": false, "zero": false}},
             "color": {"field": "c", "type": "nominal", "scale": {"domain": ["Probe", "Target", "Irrelevant"], "range": ["#000000", "#000000", "#9b9b9b"]}},
             "strokeDash": {"field": "c", "type": "nominal", "scale": {"domain": ["Probe", "Target", "Irrelevant"], "range": [[1, 0], [12, 7], [1, 0]]}}
           }},
          {"data": {"values": [{}]},
           "mark": {"type": "rule", "color": "#333", "strokeWidth": 1.3},
           "encoding": {"y": {"datum": 0, "type": "quantitative", "scale": {"domain": [-4, 16], "nice": false, "zero": false}}}},
          {"data": {"values": [{}]},
           "mark": {"type": "rule", "color": "#444", "strokeWidth": 1.4},
           "encoding": {"x": {"datum": 0, "type": "quantitative", "scale": {"domain": [-200, 1700], "nice": false, "zero": false}}}},
          {"data": {"values": [{}]},
           "mark": {"type": "rule", "color": "#444", "strokeWidth": 1.4},
           "encoding": {"x": {"datum": -40, "type": "quantitative", "scale": {"domain": [-200, 1700], "nice": false, "zero": false}}, "x2": {"datum": 42}, "y": {"datum": 16, "type": "quantitative", "scale": {"domain": [-4, 16], "nice": false, "zero": false}}}}
        ]
      }
    ]
  },
  {
    "title": {"text": "b", "anchor": "start", "frame": "group", "fontSize": 25, "fontWeight": "bold", "baseline": "alphabetic", "offset": -42.2, "dx": -74},
    "bounds": "flush",
    "vconcat": [
      {
        "width": 614, "height": 690,
        "title": {"text": "Concealed Information Test P300 Amplitude", "fontSize": 25, "baseline": "alphabetic", "frame": "group", "offset": -10.8, "dx": 20},
        "resolve": {"axis": {"x": "independent"}},
        "layer": [
          {"data": {"name": "pts"},
           "mark": {"type": "circle", "size": 110, "color": "#222222", "opacity": 0.34},
           "encoding": {
             "x": {"field": "p", "type": "quantitative", "scale": {"domain": [0.2955, 5.6627], "nice": false, "zero": false},
                   "axis": {"orient": "bottom", "title": null, "values": [1, 2, 4, 5], "labels": false, "tickSize": 15, "tickColor": "black", "tickWidth": 1.5, "domainColor": "black", "domainWidth": 1.5}},
             "y": {"field": "v", "type": "quantitative", "scale": {"domain": [-4.82, 16.81], "nice": false, "zero": false},
                   "axis": {"title": null, "values": [-4,-2,0,2,4,6,8,10,12,14,16], "labelExpr": "datum.value == 0 ? '0μV' : datum.value == 16 ? '16' : datum.value == -4 ? '-4' : ''", "tickSize": 14, "tickColor": "black", "tickWidth": 1.5, "domainColor": "black", "domainWidth": 1.5, "labelFontSize": 23.5, "labelPadding": 13, "labelOverlap": false, "labelFlush": false}}
           }},
          {"data": {"name": "summ"},
           "mark": {"type": "bar", "filled": false, "width": 82, "color": "#333333", "strokeWidth": 3},
           "encoding": {
             "x": {"field": "p", "type": "quantitative", "scale": {"domain": [0.2955, 5.6627], "nice": false, "zero": false},
                   "axis": {"orient": "bottom", "title": null, "values": [1.5, 4.5], "ticks": false, "domain": false, "labelExpr": "datum.value < 3 ? 'Younger Group' : 'Older Group'", "labelFontSize": 25, "labelPadding": 34, "labelOverlap": false, "labelFlush": false}},
             "y": {"field": "lo", "type": "quantitative", "scale": {"domain": [-4.82, 16.81], "nice": false, "zero": false}},
             "y2": {"field": "hi"},
             "strokeDash": {"field": "d", "type": "nominal", "scale": {"domain": ["Probe – Irrelevant", "Target – Irrelevant"], "range": [[1, 0], [10, 5]]},
                            "legend": {"orient": "none", "legendX": 181, "legendY": 758, "title": null, "symbolType": "stroke", "symbolSize": 961, "symbolStrokeWidth": 3.5, "symbolStrokeColor": "black", "labelFontSize": 24.5, "labelLimit": 400, "labelOffset": 7, "clipHeight": 23, "rowPadding": 0}}
           }},
          {"data": {"values": [{}]},
           "mark": {"type": "rule", "color": "black", "strokeWidth": 4, "strokeDash": [13, 6]},
           "encoding": {"y": {"datum": 0, "type": "quantitative", "scale": {"domain": [-4.82, 16.81], "nice": false, "zero": false}}}},
          {"data": {"values": [{}]},
           "mark": {"type": "rule", "color": "black", "strokeWidth": 1.5},
           "encoding": {"y": {"datum": 16.81, "type": "quantitative", "scale": {"domain": [-4.82, 16.81], "nice": false, "zero": false}}}},
          {"data": {"name": "summ"},
           "mark": {"type": "tick", "orient": "horizontal", "size": 114, "thickness": 7, "color": "black", "opacity": 1},
           "encoding": {
             "x": {"field": "p", "type": "quantitative", "scale": {"domain": [0.2955, 5.6627], "nice": false, "zero": false}, "axis": null},
             "y": {"field": "m", "type": "quantitative", "scale": {"domain": [-4.82, 16.81], "nice": false, "zero": false}}
           }}
        ]
      }
    ]
  }
]
}
